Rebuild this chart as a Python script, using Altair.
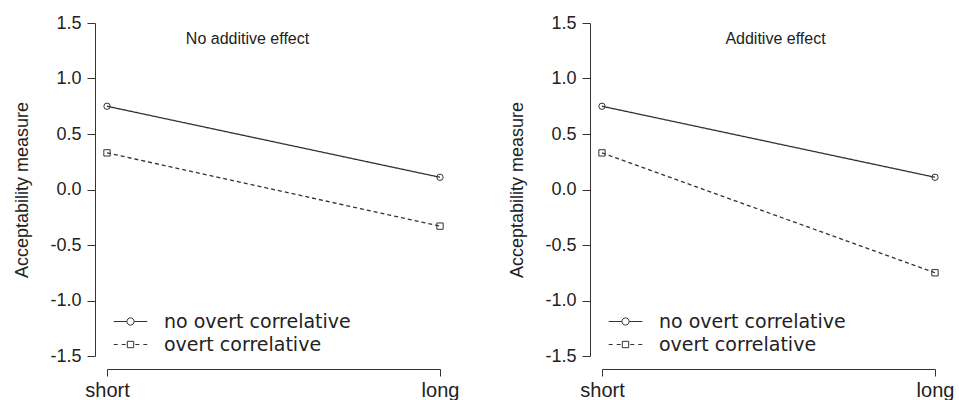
import altair as alt
import pandas as pd

conditions = ["short", "long"]
series = ["no overt correlative", "overt correlative"]
panel_titles = ["No additive effect", "Additive effect"]
left_no_overt = [0.75, 0.11]
left_overt = [0.33, -0.33]
right_no_overt = [0.75, 0.11]
right_overt = [0.33, -0.75]
y_ticks = [-1.5, -1.0, -0.5, 0.0, 0.5, 1.0, 1.5]

INK = "#333333"
FONT = "Liberation Sans"

circle_path = ("M-2.1,0H-0.45M0.45,0H2.1"
               "M-0.45,0A0.45,0.45 0 1,0 0.45,0A0.45,0.45 0 1,0 -0.45,0")
square_path = ("M-2.1,0H-1.6M-1.1,0H-0.6"
               "M-0.4,-0.4H0.4V0.4H-0.4Z"
               "M0.6,0H1.1M1.6,0H2.1")


def make_df(a, b):
    rows = []
    for s, vals in zip(series, [a, b]):
        for c, v in zip(conditions, vals):
            rows.append({"condition": c, "series": s, "value": v})
    return pd.DataFrame(rows)


def panel(df, title, dx):
    base = alt.Chart(df)
    x = alt.X(
        "condition:N", sort=conditions,
        scale=alt.Scale(type="point", padding=0),
        axis=alt.Axis(title=None, labelAngle=0, offset=13, tickSize=7,
                      labelPadding=4, labelFontSize=20, labelFont=FONT,
                      labelColor="#222", domainColor=INK, tickColor=INK,
                      grid=False),
    )
    y = alt.Y(
        "value:Q",
        scale=alt.Scale(domain=[-1.5, 1.5], nice=False, zero=False),
        axis=alt.Axis(values=y_ticks, title="Acceptability measure",
                      offset=12, tickSize=8, labelPadding=6,
                      labelFontSize=18, labelFont=FONT, labelColor="#222",
                      titleFontSize=18, titleFont=FONT, titleColor="#222",
                      titleFontWeight="normal", titlePadding=18,
                      domainColor=INK, tickColor=INK, grid=False,
                      labelExpr="datum.value < 0 ? '-' + format(-datum.value, '.1f') : format(datum.value, '.1f')"),
    )
    lines = base.mark_line(color=INK, strokeWidth=1.3).encode(
        x=x, y=y, detail="series:N",
        strokeDash=alt.StrokeDash("series:N",
                                  scale=alt.Scale(domain=series, range=[[1, 0], [4, 3]]),
                                  legend=None),
    )
    points = base.mark_point(filled=False, size=40, color=INK, strokeWidth=1,
                             opacity=1).encode(
        x=x, y=y,
        shape=alt.Shape("series:N",
                        scale=alt.Scale(domain=series, range=["circle", "square"]),
                        legend=None),
    )
    legend_layer = base.transform_filter("false").mark_point(
        filled=False, color=INK, strokeWidth=1, opacity=1).encode(
        x=x, y=y,
        shape=alt.Shape("series:N",
                        scale=alt.Scale(domain=series, range=[circle_path, square_path]),
                        legend=alt.Legend(title=None, orient="none", legendX=14,
                                          legendY=289, padding=0,
                                          symbolSize=256, symbolStrokeWidth=1,
                                          symbolStrokeColor=INK,
                                          symbolFillColor="transparent",
                                          labelFont="DejaVu Sans", labelFontSize=19,
                                          labelColor="#222", labelOffset=24,
                                          rowPadding=3, labelLimit=400)),
    )
    return alt.layer(lines, points, legend_layer).resolve_scale(
        shape="independent").properties(
        width=333, height=333,
        title=alt.TitleParams(title, fontSize=16, font=FONT, fontWeight="normal",
                              color="#222", anchor="middle", dy=37, dx=dx),
    )


left = panel(make_df(left_no_overt, left_overt), panel_titles[0], -26)
right = panel(make_df(right_no_overt, right_overt), panel_titles[1], 7)

chart = alt.hconcat(left, right, spacing=49).properties(
    padding={"left": 13, "top": 14, "right": 0, "bottom": 0},
    background="white",
).configure_view(stroke=None)

chart.save("out.html", embed_options={"renderer": "svg", "actions": False})
